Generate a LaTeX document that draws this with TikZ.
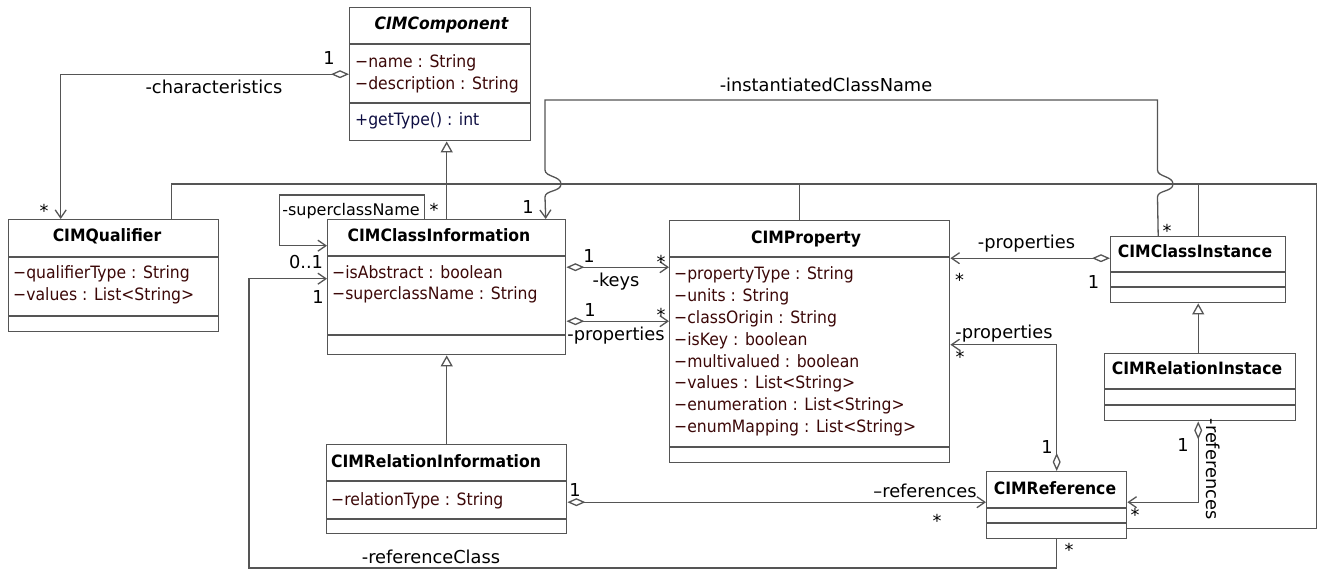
\documentclass[tikz,border=0pt]{standalone}
\usepackage{fontspec}
\setmainfont{DejaVu Sans}
\newfontfamily\boxfont[FakeStretch=0.92]{DejaVu Sans}
\usetikzlibrary{positioning, arrows.meta}
\definecolor{umlgray}{RGB}{85,85,85}
\definecolor{attrred}{RGB}{60,8,8}
\definecolor{opblue}{RGB}{14,14,66}
\tikzset{cls/.style={draw=umlgray,line width=1.4pt,fill=white,inner sep=0pt,anchor=north west},
         divider/.style={draw=umlgray,line width=1.2pt},
         clsname/.style={font=\boxfont\fontsize{17}{20}\selectfont\bfseries,inner sep=0pt,anchor=base},
         attrs/.style={font=\boxfont\fontsize{17}{21.8}\selectfont,text=attrred,align=left,inner sep=0pt,anchor=north west},
         ops/.style={attrs,text=opblue},
         lbl/.style={font=\fontsize{17.8}{20}\selectfont,inner sep=0pt,anchor=base},
         link/.style={draw=umlgray,line width=1.3pt},
         nav/.style={link,-{Straight Barb[length=8pt,width=11pt]}},
         aggr/.style={link,{Diamond[open,length=18pt,width=8pt]}-{Straight Barb[length=8pt,width=11pt]}},
         gen/.style={link,-{Triangle[open,length=11pt,width=12pt]}},
        }

\begin{document}
\begin{tikzpicture}[x=1pt,y=-1pt]
        \useasboundingbox (0,0) rectangle (1317,570);
        \coordinate (bus) at (0,184);

        \node[cls,minimum width=181,minimum height=133](comp)at(349,7){};
        \draw[divider](349,44)--(530,44);
        \draw[divider](349,103)--(530,103);
        \node[clsname](compn)at(441.5,29.5){\itshape CIMComponent};
        \node[attrs](compa)at(355,54.4){−name : String\\−description : String};
        \node[ops](compo)at(355,112.7){+getType() : int};

        \node[cls,minimum width=210,minimum height=112](qual)at(8,219){};
        \draw[divider](8,257)--(218,257);
        \draw[divider](8,316)--(218,316);
        \node[clsname](qualn)at(107,241){CIMQualifier};
        \node[attrs](quala)at(13,265.5){−qualifierType : String\\−values : List<String>};

        \node[cls,minimum width=238,minimum height=135](cinfo)at(327,219){};
        \draw[divider](327,256)--(565,256);
        \draw[divider](327,335)--(565,335);
        \node[clsname](cinfon)at(439,241){CIMClassInformation};
        \node[attrs](cinfoa)at(332,265){−isAbstract : boolean\\−superclassName : String};

        \node[cls,minimum width=280,minimum height=242](prop)at(669,220){};
        \draw[divider](669,257)--(949,257);
        \draw[divider](669,447)--(949,447);
        \node[clsname](propn)at(806,243){CIMProperty};
        \node[attrs](propa)at(674,266.7){−propertyType : String\\−units : String\\−classOrigin : String\\−isKey : boolean\\−multivalued : boolean\\−values : List<String>\\−enumeration : List<String>\\−enumMapping : List<String>};

        \node[cls,minimum width=175,minimum height=66](cinst)at(1110,236){};
        \draw[divider](1110,272)--(1285,272);
        \draw[divider](1110,287)--(1285,287);
        \node[clsname](cinstn)at(1195,257){CIMClassInstance};

        \node[cls,minimum width=191,minimum height=67](rinst)at(1104,353){};
        \draw[divider](1104,389)--(1295,389);
        \draw[divider](1104,405)--(1295,405);
        \node[clsname](rinstn)at(1197,374.5){CIMRelationInstace};

        \node[cls,minimum width=240,minimum height=89](rinfo)at(326,444){};
        \draw[divider](326,481)--(566,481);
        \draw[divider](326,519)--(566,519);
        \node[clsname](rinfon)at(436,467){CIMRelationInformation};
        \node[attrs](rinfoa)at(331,492.4){−relationType : String};

        \node[cls,minimum width=140,minimum height=67](cref)at(986,471){};
        \draw[divider](986,508)--(1126,508);
        \draw[divider](986,523)--(1126,523);
        \node[clsname](crefn)at(1055,494.5){CIMReference};

        \draw[gen](cinfo.north)--(cinfo.north |- comp.south);
        \draw[gen](rinfo.north)--(cinfo.south);
        \draw[gen]([xshift=-2pt]rinst.north)--(cinst.south);
        \draw[link]([xshift=58pt]qual.north)|-(1316.5,184)|-([yshift=-23.5pt]cref.east);
        \draw[link]([xshift=-10pt]prop.north)--([xshift=-10pt]prop.north |- bus);
        \draw[link](cinst.north)--(cinst.north |- bus);

        \draw[aggr](comp.west)-|([xshift=-53pt]qual.north);
        \draw[nav]([xshift=-40pt]cinst.north)--(1157.5,197)
            .. controls (1157.5,190) and (1173,192) .. (1173,184)
            .. controls (1173,176) and (1157.5,177) .. (1157.5,170)
            --(1157.5,100)--(545,100)--(545,170)
            .. controls (545,177) and (561,176) .. (561,184)
            .. controls (561,192) and (545,190) .. (545,197)
            --([xshift=99pt]cinfo.north);
        \draw[nav]([xshift=-22pt]cinfo.north)|-(279.5,195)|-([yshift=41.5pt]cinfo.west);
        \draw[nav](cref.south)|-(249,568)|-([yshift=8.5pt]cinfo.west);
        \draw[aggr]([yshift=20pt]cinfo.east)--([yshift=74.5pt]prop.west);
        \draw[aggr]([yshift=-34pt]cinfo.east)--([yshift=20.5pt]prop.west);
        \draw[aggr]([yshift=11.5pt]cinst.west)--([yshift=83.5pt]prop.east);
        \draw[aggr](cref.north)|-([yshift=-3pt]prop.east);
        \draw[aggr]([yshift=-13pt]rinfo.east)--([yshift=3pt]cref.west);
        \draw[aggr]([xshift=-2pt]rinst.south)|-([yshift=3pt]cref.east);

        \node[lbl](m1)at(329,64.5){1};
        \node[lbl](r1)at(214,93.5){-characteristics};
        \node[lbl](m2)at(44,217){*};
        \node[lbl](r2)at(826,91.5){-instantiatedClassName};
        \node[lbl](m3)at(528,213.5){1};
        \node[lbl](m4)at(1167,237){*};
        \node[lbl,font=\fontsize{16}{18}\selectfont](r3)at(351,215){-superclassName};
        \node[lbl](m5)at(434,216){*};
        \node[lbl](m6)at(306,268.5){0..1};
        \node[lbl](m7)at(318,303.5){1};
        \node[lbl](m8)at(589,262.5){1};
        \node[lbl](m9)at(661,268){*};
        \node[lbl](r4)at(616,286.5){-keys};
        \node[lbl](m10)at(590,316.5){1};
        \node[lbl](m11)at(661,321){*};
        \node[lbl](r5)at(616,340.5){-properties};
        \node[lbl](r6)at(1026.5,248){-properties};
        \node[lbl](m12)at(959.5,286){*};
        \node[lbl](m13)at(1093.5,288){1};
        \node[lbl](r7)at(1004,338){-properties};
        \node[lbl](m14)at(960,363){*};
        \node[lbl](m15)at(1047,453){1};
        \node[lbl](m16)at(575,496.5){1};
        \node[lbl](r8)at(925,497.5){–references};
        \node[lbl](m17)at(937,527){*};
        \node[lbl](m18)at(1183,451.5){1};
        \node[lbl,anchor=center,rotate=-90](r9)at(1213,469){-references};
        \node[lbl](m19)at(1135,521.5){*};
        \node[lbl](r10)at(431,563){-referenceClass};
        \node[lbl](m20)at(1069,556.5){*};
\end{tikzpicture}
\end{document}
